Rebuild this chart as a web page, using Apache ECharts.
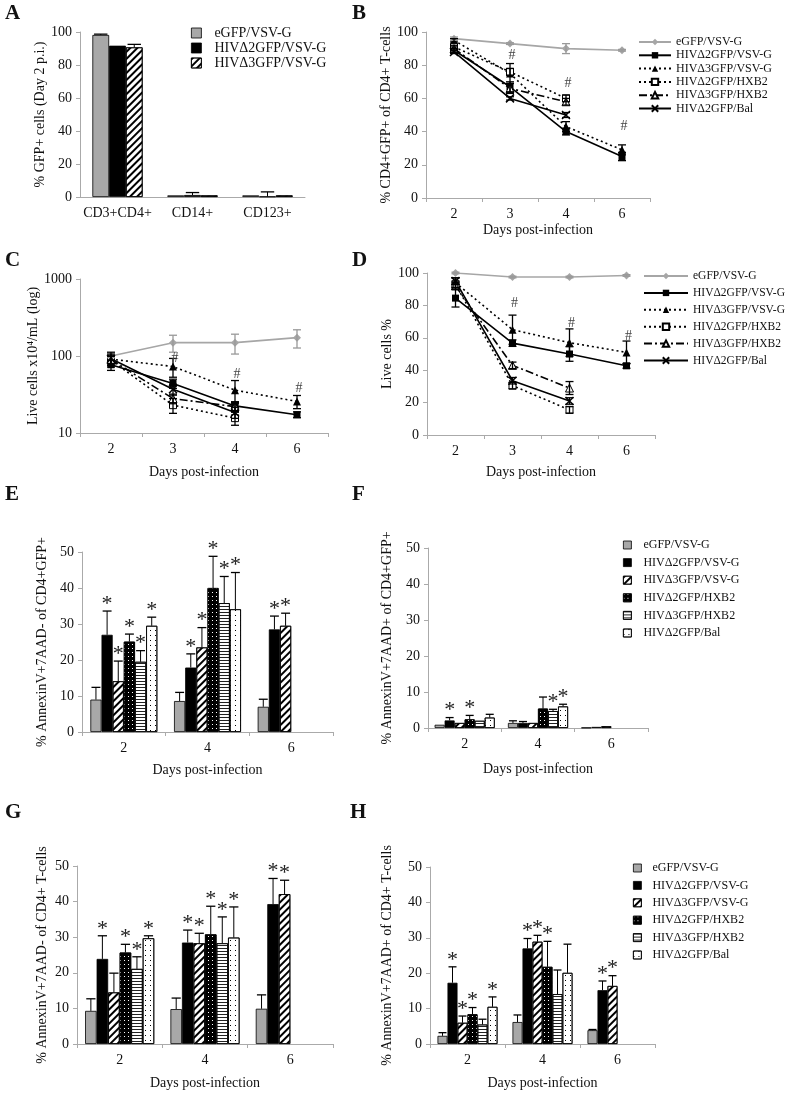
<!DOCTYPE html>
<html><head><meta charset="utf-8">
<script src="https://cdn.jsdelivr.net/npm/echarts@6/dist/echarts.min.js"></script>
<style>html,body{margin:0;padding:0;background:#fff}#c{width:800px;height:1094px}</style>
</head><body><div id="c"></div>
<script>
const FF = '"Liberation Serif","Times New Roman",Times,serif';

// ---------- DATA ----------
const groupNames = ['eGFP/VSV-G','HIVΔ2GFP/VSV-G','HIVΔ3GFP/VSV-G','HIVΔ2GFP/HXB2','HIVΔ3GFP/HXB2','HIVΔ2GFP/Bal'];
const catsA = ['CD3+CD4+','CD14+','CD123+'];
const daysLine = ['2','3','4','6'];
const daysBar = ['2','4','6'];
const panelLetters = ['A','B','C','D','E','F','G','H'];
const axisTitleA = '% GFP+ cells (Day 2 p.i.)';
const axisTitleB = '% CD4+GFP+ of CD4+ T-cells';
const axisTitleC = 'Live cells x10⁴/mL (log)';
const axisTitleD = 'Live cells %';
const axisTitleE = '% AnnexinV+7AAD- of CD4+GFP+';
const axisTitleF = '% AnnexinV+7AAD+ of CD4+GFP+';
const axisTitleG = '% AnnexinV+7AAD- of CD4+ T-cells';
const axisTitleH = '% AnnexinV+7AAD+ of CD4+ T-cells';
const xTitle = 'Days post-infection';

// Panel A (per series, per category)
const aVal = [[98.2,1,1],[91.7,1.2,0.3],[90.7,1,1]];
const aErr = [[0.5,0,0],[0,1.5,2.8],[1.8,0,0]];

// Panel B (per series, days 2,3,4,6)
const bVal = [[96,93,90,89],[89,67,40,25],[95,75,43,29],[91,76,60,null],[90,66,58,null],[88,60,50,null]];
const bErr = [[1,0.5,3,0.5],[1,3,2,2.5],[1,6,3,3],[1,2,2,null],[1,3,2,null],[1,1,1.5,null]];
const bHash = [null,86,69,43];

// Panel C (log scale)
const cVal = [[100,149,149,173],[77,44,22.5,17.3],[91,73,36,25.7],[88,23,15.6,null],[90,28,22,null],[92,37,18.5,null]];
const cErr = [[5,37,43,46],[12,6,3,1.5],[15,20,12,5],[12,5,3,null],[10,4,3,null],[20,6,3,null]];
const cHash = [null,93,57,38];

// Panel D
const dVal = [[100,97.5,97.5,98.5],[84.5,56.7,50,42.7],[94,65,57,51],[93,30.5,15.5,null],[92,43,29,null],[95,33.5,21,null]];
const dErr = [[0.5,0.5,0.5,0.5],[5.5,2,4.5,1.5],[3,9,8.5,7],[2,2,2,null],[2,2,4,null],[2,2,2,null]];
const dHash = [null,81,69,61];

// Panel E (per series, days 2,4,6)
const eVal = [[9.0,8.6,7.0],[27,17.9,28.5],[14.1,23.5,29.5],[25.1,40,null],[19.5,35.8,null],[29.5,34.1,null]];
const eErr = [[3.4,2.4,2.1],[6.6,3.8,3.7],[5.6,5.5,3.5],[2.1,8.8,null],[3.1,7.4,null],[2.4,10.2,null]];
const eStar = [[0,0,0],[1,1,1],[1,1,1],[1,1,0],[1,1,0],[1,1,0]];

// Panel F
const fVal = [[0.9,1.4,0.1],[2.1,1.4,0.3],[1.4,1.4,0.5],[2.4,5.4,null],[2.0,4.7,null],[2.9,6.0,null]];
const fErr = [[0,0.6,0],[0.8,0.4,0],[0,0,0],[1.1,3.2,null],[0,0.5,null],[0.9,0.6,null]];
const fStar = [[0,0,0],[1,0,0],[0,0,0],[1,0,0],[0,1,0],[0,1,0]];

// Panel G
const gVal = [[9.3,9.8,9.9],[23.9,28.5,39.3],[14.5,28.3,42.1],[25.7,30.8,null],[21.1,28.3,null],[29.7,29.9,null]];
const gErr = [[3.4,3.1,3.9],[6.5,3.5,7.2],[5.4,2.8,3.9],[2.3,7.9,null],[3.4,7.4,null],[0.7,8.6,null]];
const gStar = [[0,0,0],[1,1,1],[0,1,1],[1,1,0],[1,1,0],[1,1,0]];

// Panel H
const hVal = [[2.3,6.2,3.9],[17.3,27,15.2],[6,28.9,16.4],[8.4,21.8,null],[5.5,14.1,null],[10.5,20.1,null]];
const hErr = [[0.9,2,0.2],[4.5,2.8,2.6],[1.9,1.8,2.9],[1.9,7.2,null],[1.5,6.8,null],[2.8,8.1,null]];
const hStar = [[0,0,0],[1,1,1],[1,1,1],[1,1,0],[0,0,0],[1,0,0]];

// ---------- STYLES / LAYOUT ----------
const gridBoxes = [
  {left:80, top:32, width:225, height:165},
  {left:426, top:32, width:224, height:166},
  {left:80, top:279, width:248, height:154},
  {left:427, top:273, width:228, height:162},
  {left:82, top:552, width:251, height:180},
  {left:428, top:548, width:220, height:180},
  {left:77, top:866, width:256, height:178},
  {left:430, top:867, width:225, height:177}
];
const letterPos = [[5,3],[352,3],[5,250],[352,250],[5,484],[352,484],[5,802],[350,802]];

function barStyle(i){
  const base = {borderColor:'#000', borderWidth:0.8};
  if (i===0) return Object.assign({}, base, {color:'#a8a8a8'});
  if (i===1) return Object.assign({}, base, {color:'#000'});
  if (i===2) return Object.assign({}, base, {color:'#fff', decal:{symbol:'rect', color:'#000', dashArrayX:[1,0], dashArrayY:[2,2.5], rotation:-Math.PI/4}});
  if (i===3) return Object.assign({}, base, {color:'#000', decal:{symbol:'rect', color:'#fff', dashArrayX:[1,3], dashArrayY:[1,3]}});
  if (i===4) return Object.assign({}, base, {color:'#fff', decal:{symbol:'rect', color:'#222', dashArrayX:[1,0], dashArrayY:[1,1.5]}});
  return Object.assign({}, base, {color:'#fff', decal:{symbol:'rect', color:'#000', dashArrayX:[1,4], dashArrayY:[1,4]}});
}
const lineDefs = [
  {color:'#a6a6a6', type:'solid', symbol:'diamond', size:8, item:{color:'#a6a6a6'}},
  {color:'#000', type:'solid', symbol:'rect', size:7, item:{color:'#000'}},
  {color:'#000', type:[2,3], symbol:'triangle', size:8, item:{color:'#000'}},
  {color:'#000', type:[2,3], symbol:'rect', size:7, item:{color:'#fff', borderColor:'#000', borderWidth:1}},
  {color:'#000', type:[8,3,2,3], symbol:'triangle', size:8, item:{color:'#fff', borderColor:'#000', borderWidth:1}},
  {color:'#000', type:'solid', symbol:'path://M0,0L10,10M10,0L0,10', size:8, item:{color:'#000', borderColor:'#000', borderWidth:1.5}}
];

function barPanelSeries(gi, n, vals, errs, stars, gapPct) {
  const out = [];
  vals.forEach((arr, si) => {
    out.push({type:'bar', name: groupNames[si], xAxisIndex:gi, yAxisIndex:gi, data: arr,
      barGap:'0%', barCategoryGap: gapPct + '%', itemStyle: barStyle(si), silent:true});
  });
  const ed = [];
  vals.forEach((arr, si) => arr.forEach((v, ci) => {
    if (v == null) return;
    ed.push([ci, v, errs[si][ci] || 0, stars ? (stars[si][ci] || 0) : 0, si]);
  }));
  out.push({type:'custom', xAxisIndex:gi, yAxisIndex:gi, silent:true, z:5, data: ed, encode:{x:0, y:1},
    renderItem: function(params, api){
      const ci = api.value(0), v = api.value(1), e = api.value(2), st = api.value(3), si = api.value(4);
      const w = api.size([1,0])[0];
      const gw = w * (1 - gapPct/100);
      const bw = gw / n;
      const base = api.coord([ci, v]);
      const x = base[0] - gw/2 + bw*(si+0.5);
      const topY = api.coord([ci, v + e])[1];
      const ch = [];
      if (e > 0) {
        ch.push({type:'line', shape:{x1:x, y1:base[1], x2:x, y2:topY}, style:{stroke:'#000', lineWidth:1}});
        ch.push({type:'line', shape:{x1:x-bw*0.4, y1:topY, x2:x+bw*0.4, y2:topY}, style:{stroke:'#000', lineWidth:1.3}});
      }
      if (st) ch.push({type:'text', style:{text:'*', x:x, y:topY+4, align:'center', verticalAlign:'bottom', font:'22px ' + FF, fill:'#222'}});
      return {type:'group', children: ch};
    }});
  return out;
}

function linePanelSeries(gi, vals, errs, hashes, isLog) {
  const out = [];
  vals.forEach((arr, si) => {
    const d = lineDefs[si];
    out.push({type:'line', name: groupNames[si] + '\u200B', xAxisIndex:gi, yAxisIndex:gi, data: arr,
      symbol: d.symbol, symbolSize: d.size, showSymbol:true, silent:true, z: 3,
      lineStyle:{color:d.color, width:1.6, type:d.type}, itemStyle: d.item});
  });
  const ed = [];
  vals.forEach((arr, si) => arr.forEach((v, ci) => {
    if (v == null) return;
    const e = errs[si][ci];
    if (e) ed.push([ci, v, e, si]);
  }));
  out.push({type:'custom', xAxisIndex:gi, yAxisIndex:gi, silent:true, z:4, data: ed, encode:{x:0, y:1},
    renderItem: function(params, api){
      const ci = api.value(0), v = api.value(1), e = api.value(2), si = api.value(3);
      const lo = isLog ? Math.max(v - e, 1) : v - e;
      const p1 = api.coord([ci, v + e]), p0 = api.coord([ci, lo]);
      const x = p1[0], hw = 4;
      const col = si === 0 ? '#999' : '#000';
      const st = {stroke: col, lineWidth: 1.3};
      return {type:'group', children:[
        {type:'line', shape:{x1:x, y1:p0[1], x2:x, y2:p1[1]}, style: st},
        {type:'line', shape:{x1:x-hw, y1:p1[1], x2:x+hw, y2:p1[1]}, style: st},
        {type:'line', shape:{x1:x-hw, y1:p0[1], x2:x+hw, y2:p0[1]}, style: st}
      ]};
    }});
  const hd = [];
  hashes.forEach((h, ci) => { if (h != null) hd.push([ci, h]); });
  out.push({type:'custom', xAxisIndex:gi, yAxisIndex:gi, silent:true, z:6, data: hd, encode:{x:0, y:1},
    renderItem: function(params, api){
      const c = api.coord([api.value(0), api.value(1)]);
      return {type:'text', style:{text:'#', x:c[0]+2, y:c[1], align:'center', verticalAlign:'middle', font:'14px ' + FF, fill:'#444'}};
    }});
  return out;
}

function xAx(gi, cats, name, gap) {
  return {gridIndex:gi, type:'category', data:cats, boundaryGap:true,
    axisLine:{show:true, lineStyle:{color:'#aaa'}}, axisTick:{show:true, length:4, lineStyle:{color:'#aaa'}},
    axisLabel:{fontFamily:FF, fontSize:14, color:'#111', margin:9, interval:0},
    name:name, nameLocation:'middle', nameGap:gap,
    nameTextStyle:{fontFamily:FF, fontSize:14, color:'#111'}};
}
function yAx(gi, name, gap, extra) {
  return Object.assign({gridIndex:gi, type:'value', name:name, nameLocation:'middle', nameGap:gap,
    nameTextStyle:{fontFamily:FF, fontSize:14, color:'#111'},
    axisLine:{show:true, lineStyle:{color:'#aaa'}}, axisTick:{show:true, length:4, lineStyle:{color:'#aaa'}},
    splitLine:{show:false}, axisLabel:{fontFamily:FF, fontSize:14, color:'#111', margin:8, formatter: v => String(v)}}, extra);
}

const stripZ = n => n.replace(/\u200B/g, '');
function barLegend(left, top, names, fs, sw, gap, pad) {
  return {orient:'vertical', left:left, top:top, padding:0, itemWidth:sw, itemHeight:sw, itemGap:gap,
    selectedMode:false, icon:'rect', data:names,
    itemStyle:{borderColor:'#000', borderWidth:0.8},
    textStyle:{fontFamily:FF, fontSize:fs, color:'#111', padding:[0,0,0,pad]}};
}
function lineLegend(left, top, fs, iw, gap) {
  return {orient:'vertical', left:left, top:top, padding:0, itemWidth:iw, itemHeight:8, itemGap:gap,
    selectedMode:false, data: groupNames.map(n => n + '\u200B'), formatter: stripZ,
    textStyle:{fontFamily:FF, fontSize:fs, color:'#111'}};
}

const series = [].concat(
  barPanelSeries(0, 3, aVal, aErr, null, 33),
  barPanelSeries(4, 6, eVal, eErr, eStar, 20),
  barPanelSeries(5, 6, fVal, fErr, fStar, 18),
  barPanelSeries(6, 6, gVal, gErr, gStar, 19),
  barPanelSeries(7, 6, hVal, hErr, hStar, 20),
  linePanelSeries(1, bVal, bErr, bHash, false),
  linePanelSeries(2, cVal, cErr, cHash, true),
  linePanelSeries(3, dVal, dErr, dHash, false)
);

const option = {
  animation:false,
  backgroundColor:'#fff',
  title: panelLetters.map((t, i) => ({text:t, left:letterPos[i][0], top:letterPos[i][1], padding:0,
    textStyle:{fontFamily:FF, fontSize:21, fontWeight:'bold', color:'#111'}})),
  grid: gridBoxes,
  xAxis: [
    Object.assign(xAx(0, catsA, '', 0), {axisTick:{show:false}}),
    xAx(1, daysLine, xTitle, 25),
    xAx(2, daysLine, xTitle, 32),
    xAx(3, daysLine, xTitle, 30),
    xAx(4, daysBar, xTitle, 31),
    xAx(5, daysBar, xTitle, 34),
    xAx(6, daysBar, xTitle, 32),
    xAx(7, daysBar, xTitle, 32)
  ],
  yAxis: [
    yAx(0, axisTitleA, 28, {min:0, max:100, interval:20}),
    yAx(1, axisTitleB, 31, {min:0, max:100, interval:20}),
    yAx(2, axisTitleC, 31, {type:'log', logBase:10, min:10, max:1000}),
    yAx(3, axisTitleD, 33, {min:0, max:100, interval:20}),
    yAx(4, axisTitleE, 33, {min:0, max:50, interval:10}),
    yAx(5, axisTitleF, 34, {min:0, max:50, interval:10}),
    yAx(6, axisTitleG, 28, {min:0, max:50, interval:10}),
    yAx(7, axisTitleH, 36, {min:0, max:50, interval:10})
  ],
  legend: [
    barLegend(191, 26, groupNames.slice(0,3), 14, 10, 1, 8),
    lineLegend(638, 36, 12, 32, 1.3),
    lineLegend(643, 270, 11.5, 44, 4.9),
    barLegend(623, 539, groupNames, 12, 8, 5.6, 7),
    barLegend(633, 862, groupNames, 12, 8, 5.4, 6)
  ],
  series: series
};
const chart = echarts.init(document.getElementById('c'), null, {renderer:'canvas'});
chart.setOption(option);
</script></body></html>
